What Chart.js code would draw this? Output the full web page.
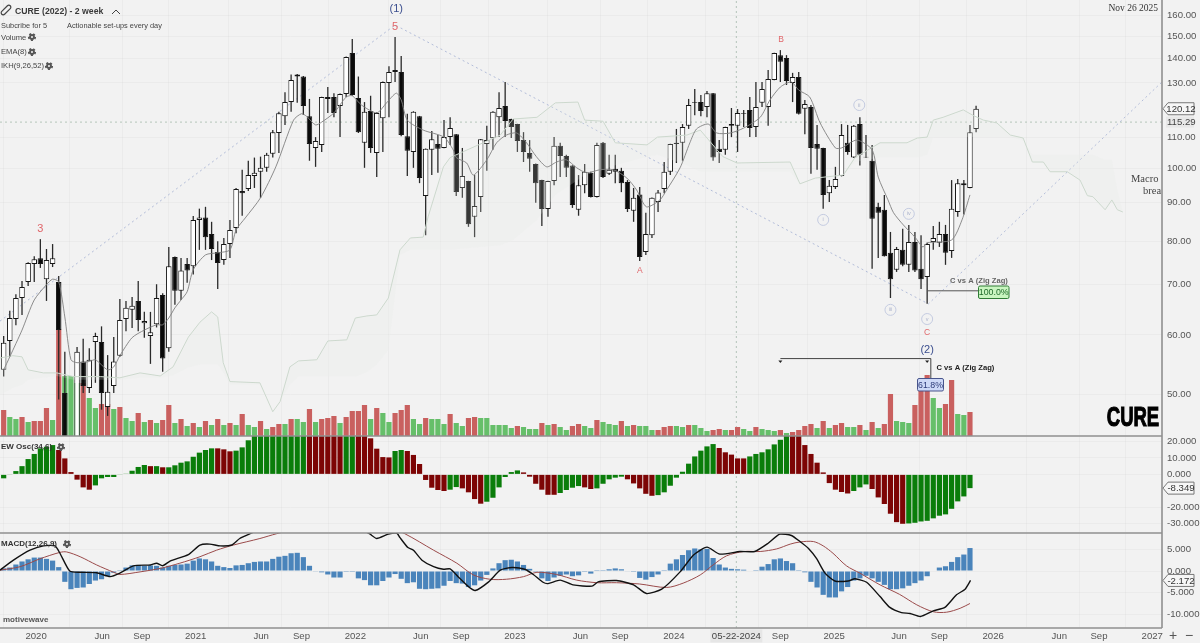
<!DOCTYPE html>
<html><head><meta charset="utf-8">
<style>html,body{margin:0;padding:0;background:#f2f2f2;overflow:hidden}canvas{display:block}</style>
<script src="https://cdn.jsdelivr.net/npm/chart.js@4/dist/chart.umd.min.js"></script>
</head><body>
<canvas id="c" width="1200" height="643"></canvas>
<script>
const opens=[53.9,58.9,63.0,67.2,70.6,74.6,75.9,71.2,74.6,70.6,50.2,41,38,55.3,51.0,58.7,58.7,48.1,51.3,56.3,63.0,64.8,66.6,62.2,59.8,62.0,67.8,57.6,76.2,68.7,74.6,74.1,85.4,86.0,81.8,77.4,75.5,79.3,83.3,93.3,93.9,97.7,99.0,100.2,104.6,111.5,117.4,122.6,133.4,132.6,117.4,106.5,107.5,124.5,124.5,121.1,125.7,142.5,124.1,108.2,119.3,104.9,116.7,130.0,134.5,134.5,110.4,105.2,117.4,91.9,105.9,107.8,106.5,110.1,111.1,94.2,96.2,86.2,91.6,107.8,109.7,117.0,121.1,116.4,114.6,109.1,104.9,101.4,96.5,88.3,96.2,107.2,103.9,100.9,88.1,95.0,98.7,91.6,108.2,98.4,99.9,99.3,95.9,87.8,92.3,77.4,81.5,90.2,93.9,99.0,108.2,108.2,114.0,122.6,122.6,120.8,126.0,106.2,105.9,114.0,114.0,118.6,119.7,113.6,122.3,120.8,131.2,141.6,140.4,130.0,132.4,120.1,120.8,107.8,106.5,92.7,94.5,97.7,108.2,103.4,114.6,103.7,102.4,88.9,88.1,77.2,73.3,77.9,74.4,79.8,73.5,71.7,79.8,79.6,81.8,77.6,87.5,95.6,94.2,112.9];
const closes=[58.6,63.2,67.2,69.5,74.8,75.7,74.6,75.5,75.9,60.9,40,37.5,57.0,51.3,55.6,59.8,50.2,50.4,55.3,62.8,65.2,65.6,62.8,62.6,60.5,67.2,55.8,74.1,68.7,73.1,73.1,85.4,86.0,81.0,78.1,74.8,79.3,82.8,93.9,92.7,98.0,98.7,100.2,104.3,111.8,118.5,122.6,131.2,132.6,121.1,107.8,108.8,124.5,123.8,118.6,125.7,140.8,125.3,111.8,119.0,106.5,118.6,130.4,134.5,135.3,110.8,105.6,119.0,97.1,106.2,109.4,106.2,110.1,113.2,93.0,97.7,84.3,89.1,109.4,109.1,119.0,120.4,115.7,113.6,108.8,105.2,103.0,95.6,88.3,96.2,107.2,103.9,100.2,89.4,95.0,99.0,91.6,107.5,97.4,99.6,99.0,95.6,88.3,91.4,76.2,81.8,91.4,92.9,99.0,107.8,107.8,113.6,121.5,122.3,119.3,126.0,103.4,105.2,113.6,114.6,118.6,118.3,113.2,120.8,127.6,131.6,142.5,138.7,130.8,132.4,118.3,121.9,106.5,106.2,92.2,94.8,96.8,110.8,105.2,114.0,104.3,103.4,85.7,87.3,76.4,71.2,78.1,74.4,79.8,73.1,71.2,79.3,80.8,81.8,77.2,88.4,95.6,95.0,111.8,120.12];
const highs=[59.8,64.6,68.0,70.8,75.0,76.4,80.5,78.1,79.3,71.9,57,43.5,57.8,59.3,57.6,60.4,61.6,56.4,59.6,67.0,66.6,67.4,70.8,64.4,64.4,70.1,68.2,78.6,76.3,76.0,76.0,86.4,88.4,88.9,84.9,80.0,80.8,85.4,94.2,99.6,102.4,103.4,103.7,104.9,112.5,119.0,126.4,133.4,133.6,132.8,123.8,110.1,124.6,128.4,126.0,125.9,141.0,148.8,132.6,122.6,125.0,118.8,130.6,136.9,149.7,141.2,118.3,119.2,117.5,106.3,112.2,110.8,116.0,117.0,111.2,106.5,96.3,98.0,109.5,114.0,119.2,126.4,130.4,116.5,114.7,111.8,109.1,101.5,96.6,96.3,110.1,108.2,104.3,101.0,98.0,101.4,99.0,108.2,108.5,104.3,104.3,100.2,96.5,94.2,94.5,87.3,91.5,93.6,102.0,107.9,112.9,114.6,123.8,127.6,125.3,126.8,126.1,109.1,113.7,120.4,120.0,119.7,124.5,130.4,130.4,135.3,142.6,143.8,141.6,134.1,134.5,123.4,121.5,114.3,106.6,96.5,100.5,114.6,114.3,114.3,117.0,110.8,107.5,90.0,92.2,82.3,78.6,83.1,84.1,82.3,81.5,79.6,83.8,84.9,84.1,96.5,96.8,96.5,114.3,121.2];
const lows=[52.8,56.1,61.8,63.8,69.7,70.6,73.7,66.6,73.9,49.2,38,33,36,50.2,50.2,51.8,47.7,46.8,50.2,56.1,60.7,61.3,60.7,59.5,54.9,61.4,53.6,57.0,65.8,66.8,70.4,72.2,77.9,77.9,75.5,69.1,74.4,76.0,82.0,86.5,93.3,94.2,91.4,99.0,103.4,104.9,114.3,119.0,122.3,117.8,102.4,100.5,105.2,118.6,117.0,110.1,124.5,125.0,111.5,100.2,104.9,97.4,105.2,117.0,130.4,110.4,97.7,100.2,95.6,81.5,98.0,98.7,106.4,107.5,91.9,91.4,83.6,81.0,87.5,99.3,105.9,110.1,110.1,109.8,105.2,102.0,99.0,90.0,83.8,86.2,95.0,97.4,97.4,88.6,86.5,92.7,91.5,91.5,97.1,98.0,95.6,93.0,87.5,84.9,75.3,76.7,80.8,87.5,92.7,98.0,101.7,102.4,112.9,117.7,117.4,117.0,102.4,101.7,104.3,110.1,105.2,113.6,110.1,110.1,120.8,114.0,131.1,130.4,129.2,122.6,118.0,111.1,98.4,99.6,88.4,90.2,93.9,97.6,104.3,103.3,100.9,103.3,73.5,76.0,76.3,67.2,72.8,74.1,72.8,72.8,69.1,66.0,77.9,78.6,74.4,76.0,86.2,86.8,94.1,111.8];

const volumes=[26,19,17,19,14,15,15,28,16,107,60,60,53,53,38,28,32,32,27,29,18,15,23,14,16,13,16,31,13,17,10,13,9,15,11,17,11,13,11,22,11,9,15,7,9,12,12,17,17,14,27,14,17,18,20,13,19,25,25,31,17,28,23,14,23,26,31,17,12,18,17,17,12,22,13,10,18,19,18,18,11,11,11,8,10,9,7,7,13,11,12,9,6,10,12,10,8,16,14,12,11,15,10,11,10,10,6,6,9,10,10,9,11,11,8,5,6,7,6,6,9,7,5,9,7,6,5,6,3,4,6,10,12,8,15,8,11,13,9,9,11,6,14,8,12,42,15,14,13,31,47,61,38,28,32,56,22,21,24];
const volSides="RGGRGRRRGRGGGRGGRRGRGGRGRGRRGRGRGRGRGRGRGGRGRRGRGGRGRRRGRRRRGRGGRRRGGRGGGRGGRRGGGGGGRGGGRGRGGRRGGRGGGRGRGGGRRRGGRGGGRRGRRGGRGGGRGRRRRGRGRRGGRGRGRRGGGRRRGGRRGGR";

const ewOsc=[-2.4,-0.4,2,5,9.3,12.4,15.8,16.8,17.8,14.8,9.7,1.4,-3.2,-7.9,-9.3,-6.7,-2.4,-1.6,-1.6,-0.4,0.4,2.2,4.5,5.7,5,5,4.3,4.3,5.5,7.1,7.9,10.7,13.2,14.8,15.8,15.8,15.2,14,14.4,16.4,20.7,25,30,30,30,30,30,30,30,30,30,30,30,30,30,30,30,30,30,30,21.9,15.6,10.5,10.3,14.2,14.8,14.2,11.8,6.3,-3.4,-8.1,-9.5,-10.1,-9.3,-7.7,-8.5,-10.9,-15,-17.8,-16.6,-14.2,-7.9,-1.6,1.4,2.4,1.2,-1.4,-5.7,-9.3,-12.4,-12.4,-11.3,-9.5,-8.1,-7.1,-7.9,-8.9,-8.5,-5.7,-3,-2,-1.4,-3,-5.5,-8.5,-11.8,-13,-12.6,-10.9,-6.9,-2,1.6,6.5,10.9,14.4,17,18.4,16,13.4,12,9.7,9.7,10.9,12.4,13.4,15.2,18.2,21,30,30,30,17.8,12.4,7.1,1.2,-5.3,-9.3,-10.7,-11.6,-10.1,-7.9,-6.1,-8.9,-14,-18,-23.9,-29,-30,-29.8,-29.4,-28.6,-28.2,-26.7,-25.1,-24.3,-20.9,-16.4,-13.4,-8.349];
const ewRuns=[9,6,9,1,1,1,8,3,12,6,2,6,2,7,2,4,6,6,4,2,5,5,10,5,7,10,3,6,11];

const macdHist=[0.6,0.8,1.5,2.2,2.7,3.1,3.1,2.8,2.4,0.9,-2.5,-4.2,-3.9,-3.8,-3,-2.2,-1.9,-1.2,-0.4,0.2,0.8,1.3,1.4,1.2,1.3,1.2,0.8,1.2,1.4,1.5,1.7,2.4,2.9,2.7,2.2,1.2,0.9,0.7,1.3,1.4,1.8,2.1,2.2,2.2,2.8,3.3,3.5,4.1,4.2,3.2,1.2,-0.15,-0.3,-0.8,-1.5,-1.5,-0.2,-0.2,-1.7,-2.1,-3.3,-3.3,-2.3,-1.5,-0.7,-1.8,-2.8,-2.6,-4.1,-4.2,-4.1,-4,-3.4,-2.3,-2.8,-2.9,-3.7,-3.3,-2.2,-0.9,0.6,1.8,2.5,2.6,2.2,1.4,0.5,-0.2,-1.7,-2.3,-1.5,-1.1,-0.8,-1.2,-1,-0.2,-0.6,0.2,0.2,0.4,0.6,0.4,-0.1,-0.2,-1.6,-2,-1.4,-0.8,0.2,1.7,2.7,3.7,4.8,5.2,5,5.1,3,1.5,0.8,0.5,0.4,0.3,0,0.2,1,1.6,2.7,2.9,2.3,1.8,0.2,-0.3,-2.5,-3.8,-5.5,-6.1,-6.1,-4.7,-3.7,-2.2,-1.7,-1.1,-1.7,-2.5,-3.2,-4.2,-4.2,-4,-3.4,-2.8,-2.2,-1.2,0,0.8,1.1,2.1,3.2,3.8,5.3];
const macdX=[-0.6,1.6,4.3,6.5,8.4,9.2,10.8,12.5,15.2,17.4,19,21.2,24,25,26,27.2,30.2,32.1,33.7,35.4,37.3,38.6,40.3,44,50,55,59.8,61,62.9,64.3,64.8,66.1,67,68.4,70.3,71.9,73,74.3,76,77.1,79.3,81.2,83.1,85.2,86.6,88.2,89,91,93.1,96.2,97.2,100.2,103,105.1,107.6,110.6,112.8,115,117.1,120.4,122.8,125,126.9,128.8,130.2,131.6,132.9,134.3,135.9,138.1,139.2,141.1,143.3,144.9,146.8,148.2,149.9,152,153.9,155.8,157.2,158.1];
const macdLine=[0.2,2.5,4.8,5.8,5.8,4.1,0,-0.3,-0.4,-1.3,-0.5,1.2,1.4,1.8,1.2,2.3,3.8,6,6.2,5.8,6,7.5,8.6,11,13,12,8.6,7.5,8.5,8.7,7.7,5.4,4.8,2.5,1,0.4,0.5,-1.3,-3.6,-4.5,-2.5,0.2,0.8,0.4,-0.8,-2.6,-2.9,-2.1,-3.2,-3.5,-2.5,-2.2,-3.2,-5.2,-4.2,-0.2,3.7,5.5,3.9,4.5,4.5,6.4,8.5,8.2,6.8,5.2,2.9,-0.5,-2.3,-2.3,-1.8,-2.6,-5.9,-8.4,-9.6,-9.8,-10.5,-9.2,-8.4,-5.5,-4.2,-2.172];
const signalX=[-0.6,2.7,5.9,9.2,10.3,12.5,15.2,18,19,22.3,25.6,28.8,32.1,34.8,37.6,41.9,44.6,50,55,60,63,65.6,70.3,74.1,76.8,79.5,82.2,85,87.2,90.4,93.7,97,100.2,104,108.4,111.1,113.9,116,118.2,121,123.7,126.4,128.6,130.2,132.4,134,135.6,137.8,140,143.3,146.5,149.3,152,154.2,156.4,158];
const signalLine=[0.2,1,2.8,4.3,4.4,3.3,1.4,-0.3,-0.8,-0.2,0.6,1.8,3.3,4.8,6,7.5,8.6,10.5,11,10.5,10,8.6,4.8,1.8,-0.9,-1.9,-1.9,-1.3,-0.3,-0.8,-2.1,-2.7,-2.7,-3,-3.8,-2.8,-0.9,1.4,3.5,4.5,4.5,5.1,6.2,6.7,6.8,5.8,4.1,1.2,-0.5,-3.2,-5.4,-7.8,-9.4,-9.5,-8.6,-7.5];

const emaX=[0,1,3,5,7,8,9,10,11,12,14,15,17,18,19,21,23,25,26,27,28,29,30,31,33,35,37,38,39.5,42,44.5,47.4,48.7,49.5,51,52,54,56,57,58.5,61,62.6,64.2,65,66,68.6,72,73.5,74,75.7,76.8,79,80.6,82.2,83.9,85.5,87.1,88.8,90.4,92,93.7,95.3,97.5,99.7,101.9,103.5,105.1,107.3,108.4,110.6,112.2,113.3,115.2,116.6,118.8,121,123.7,125.3,127,128.8,130,131.8,133.5,136,137,139.5,142,143,144.6,145.5,147.1,149,150.3,151,155,156.7,158];
const emaVal=[53.9,56.1,60.9,66.8,70.0,71.2,70.6,63.4,55.6,55.1,55.3,55.6,53.9,54.4,56.3,59.5,60.9,61.9,61.9,63.2,65.2,66.8,68.5,73.3,76.7,77.2,77.9,82.8,85.9,91.4,100.5,116.0,118.3,117.4,114.3,115.3,118.6,124.5,125.0,121.5,118.6,122.3,126.0,123.4,116.0,112.5,110.1,105.9,103.4,101.7,98.0,102.7,108.2,110.8,111.5,108.2,103.7,100.5,102.0,102.7,100.2,98.7,99.6,99.6,97.1,93.6,88.9,90.8,93.6,100.2,108.2,112.9,114.6,111.5,111.5,113.2,117.0,123.4,128.4,130.4,127.2,124.5,115.0,106.5,106.5,109.1,105.9,97.4,90.8,87.3,84.1,81.0,78.6,79.6,80.3,85.4,92.2];

const cloudX=[-0.6,1.5,3,4,6.5,8.7,11.4,15.8,19,22.3,25.6,27.7,30.2,32.1,34,35,35.9,37,41.9,44,45.2,46.8,48.2,51.2,53,56.1,57.5,59.4,61,62.9,64.8,66.5,68.6,69.4,71.9,73,81.2,83.3,87.2,90.2,93.9,95,98,100,105.2,106.9,111.7,113.9,117.6,119.9,128.6,130.2,132.7,137.3,139.2,143.3,147.7,149.4,151,152,153.6,156.9,158.5,160.2,162.4,164.6,166.7,168.2,170,171.1,173.9,176,177.2,178.1,180.1,181.2,182.1,183];
const cloudA=[55.9,56.3,56.1,53.9,53.4,53.4,52.8,52.8,52.6,53.4,52.9,54.4,59.6,62.4,64.4,63.4,55.1,52.0,51.8,47.4,48.9,54.4,55.4,55.6,58.9,59.1,63.2,63.6,63.8,67.2,77.9,80.8,81.0,86.2,100.5,103.4,110.8,116.4,117,122.3,122.6,116,115.6,108.2,107.5,110.1,110.8,112.5,103.7,101.7,102,95.4,97.1,98,103.4,108.2,108.2,109.8,110.1,116,117,119.7,117.7,116,115,110.8,109.8,102,102,99,99,96.5,92,91.7,88.1,90.8,88.1,87.5];
const cloudB=[49.9,51,51.5,52.3,52.6,52.9,52.3,52.3,52.3,52.6,52.6,53,54.3,54.8,54.8,54.8,53.5,51.5,51.5,47.4,48.9,51.5,52.8,52.8,52.8,52.8,52.8,53.5,54.8,57.3,76.7,77.9,77.9,77.9,77.9,77.9,79,80.3,85.4,92.2,96.5,98,99.6,101,103.7,104.3,101,99,99,99,99,95.4,97.1,98,102,103.4,103.4,103.4,104.3,110.1,110.1,110.1,110.1,110.1,110.1,110.1,109,104.3,104.3,104.3,104.3,104.3,104.3,104.3,102.7,102.7,93.6,87.5];

const waveX=[-0.6,64,151.2,189.4];
const waveP=[62.6,155.3,66,130.4];
const priceTicks=[160,150,140,130,110,100,90,80,70,60,50];
const ewTicks=[20,10,0,-20,-30];
const macdTicks=[5,0,-5,-10];
const timePos=[5.3,16.1,22.6,31.4,42.1,48.7,57.5,68.2,74.8,83.6,94.3,100.8,109.6,119.8,127,135.8,146.4,153,161.8,172.6,179.1,187.8];
const timeLabels=["2020","Jun","Sep","2021","Jun","Sep","2022","Jun","Sep","2023","Jun","Sep","2024","05-22-2024","Sep","2025","Jun","Sep","2026","Jun","Sep","2027"];
const waveLabels=[["3",6,83,"#e0666a",11],["5",64,154.5,"#e0666a",11],["(1)",64.2,163.3,"#3c4f8f",11],["A",104,73,"#e0666a",8.5],["B",127.1,148.3,"#e0666a",8.5],["C",151,60.4,"#e0666a",8.5],["(2)",151,57.3,"#3c4f8f",11]];
const circled=[["ii",139.9,121.5],["i",134,85.4],["iv",148,87],["iii",145,64.8],["v",151,63]];

const XMIN=-0.6,XMAX=189.4;
const idx=a=>a.map((_,i)=>i);
const zip=(xs,ys)=>xs.map((x,i)=>({x,y:ys[i]}));
const ewColors=[];ewRuns.forEach((n,k)=>{for(let j=0;j<n;j++)ewColors.push(k%2?"#7d0505":"#0a7d0a")});
const F='"Liberation Sans", sans-serif';
const tickFont={family:'"Liberation Sans"',size:9.6};

function barDs(yAxisID,data,color,thick,order,extra){
  return Object.assign({type:'bar',yAxisID,xAxisID:'x',data,backgroundColor:color,barThickness:thick,grouped:false,order,borderWidth:0,borderSkipped:false,inflateAmount:0},extra||{});
}
function lineDs(yAxisID,data,color,width,order,extra){
  return Object.assign({type:'line',yAxisID,xAxisID:'x',data,borderColor:color,borderWidth:width,pointRadius:0,fill:false,order,tension:0},extra||{});
}
const bodyColors=closes.map((c,i)=>c>=opens[i]?"#ffffff":"#0a0a0a");

const datasets=[
  lineDs('yFull',[{x:119.8,y:-192},{x:119.8,y:436}],'rgba(140,165,150,.6)',1,9,{borderDash:[2,3]}),
  lineDs('yMain',[{x:XMIN,y:115.29},{x:XMAX,y:115.29}],'rgba(140,170,150,.6)',1,9,{borderDash:[2,3]}),
  lineDs('yMain',zip(waveX,waveP),'rgba(175,185,215,.95)',1,8,{borderDash:[2,3]}),
  barDs('yFull',idx(volumes).map(i=>({x:i,y:volumes[i]})),volumes.map((_,i)=>volSides[i]==='R'?"#c9605f":"#66bf6a"),5.2,7),
  barDs('yMain',idx(highs).map(i=>({x:i,y:[lows[i],highs[i]]})),"#2a2a2a",1.3,4),
  barDs('yMain',idx(opens).map(i=>({x:i,y:[Math.min(opens[i],closes[i]),Math.max(opens[i],closes[i])]})),bodyColors,5.5,3,{borderWidth:1,borderColor:"#161616"}),
  lineDs('yMain',zip(cloudX,cloudA),'#ccd8cd',1,2,{fill:'+1',backgroundColor:'rgba(228,236,228,.2)'}),
  lineDs('yMain',zip(cloudX,cloudB),'rgba(0,0,0,0)',0,2),
  lineDs('yMain',zip(emaX,emaVal),'#808080',0.9,1,{tension:.25}),
  barDs('yEw',idx(ewOsc).map(i=>({x:i,y:ewOsc[i]})),ewColors,5.2,5),
  barDs('yMacd',idx(macdHist).map(i=>({x:i,y:macdHist[i]})),"#4a84bb",5.2,5),
  lineDs('yMacd',zip(signalX,signalLine),'#9a4a4a',1,2,{tension:.3}),
  lineDs('yMacd',zip(macdX,macdLine),'#111111',1.4,1,{tension:.2})
];

function txt(ctx,s,x,y,font,color,align){ctx.font=font;ctx.fillStyle=color;ctx.textAlign=align||'left';ctx.textBaseline='middle';ctx.fillText(s,x,y)}
function gear(ctx,x,y,r){ctx.save();ctx.strokeStyle='#555';ctx.lineWidth=r*.55;ctx.setLineDash([r*.62,r*.62]);ctx.beginPath();ctx.arc(x,y,r,0,Math.PI*2);ctx.stroke();ctx.setLineDash([]);ctx.lineWidth=r*.6;ctx.beginPath();ctx.arc(x,y,r*.62,0,Math.PI*2);ctx.stroke();ctx.restore()}
function tag(ctx,s,y,color){
  const x0=1163,x1=1168,x2=1194;
  ctx.beginPath();ctx.moveTo(x0,y);ctx.lineTo(x1,y-6);ctx.lineTo(x2,y-6);ctx.lineTo(x2,y+6);ctx.lineTo(x1,y+6);ctx.closePath();
  ctx.fillStyle='#f6f6f6';ctx.fill();ctx.strokeStyle='#777';ctx.lineWidth=1;ctx.stroke();
  txt(ctx,s,(x1+x2)/2,y+.5,'9.6px "Liberation Sans"',color||'#333','center');
}
function box(ctx,s,x,y,w,h,bg,bd,fg){
  ctx.fillStyle=bg;ctx.strokeStyle=bd;ctx.lineWidth=1;ctx.beginPath();ctx.roundRect(x,y,w,h,1.5);ctx.fill();ctx.stroke();
  txt(ctx,s,x+w/2,y+h/2+.5,'8.8px "Liberation Sans"',fg,'center');
}
const overlay={id:'overlay',afterDraw(chart){
  const ctx=chart.ctx,X=chart.scales.x,M=chart.scales.yMain,E=chart.scales.yEw,D=chart.scales.yMacd;
  ctx.save();
  ctx.strokeStyle='#8f8f8f';ctx.lineWidth=1.4;
  [M.bottom,E.bottom,D.bottom].forEach(y=>{ctx.beginPath();ctx.moveTo(0,y);ctx.lineTo(1162,y);ctx.stroke()});
  ctx.lineWidth=1.6;ctx.beginPath();ctx.moveTo(1162,0);ctx.lineTo(1162,628);ctx.stroke();
  ctx.strokeStyle='#444';ctx.lineWidth=1.2;
  ctx.save();ctx.translate(6,10);ctx.rotate(-Math.PI/4);ctx.beginPath();ctx.roundRect(-6,-2,12,4,2);ctx.stroke();ctx.restore();
  txt(ctx,'CURE (2022) - 2 week',15,12,'bold 8.7px '+F,'#3a3a3a');
  ctx.strokeStyle='#444';ctx.lineWidth=1;ctx.beginPath();ctx.moveTo(112,14);ctx.lineTo(116,10);ctx.lineTo(120,14);ctx.stroke();
  txt(ctx,'Subcribe for 5',1,25.5,'7.4px '+F,'#444');
  txt(ctx,'Actionable set-ups every day',67,25.5,'7.4px '+F,'#444');
  txt(ctx,'Volume',1,37.5,'7.6px '+F,'#444');gear(ctx,32,37,3.2);
  txt(ctx,'EMA(8)',1,52,'7.6px '+F,'#444');gear(ctx,32,52,3.2);
  txt(ctx,'IKH(9,26,52)',1,66,'7.6px '+F,'#444');gear(ctx,49,66,3.2);
  txt(ctx,'EW Osc(34,6)',1,447,'bold 8px '+F,'#333');gear(ctx,61,447,3.2);
  txt(ctx,'MACD(12,26,9)',1,544,'bold 8px '+F,'#333');gear(ctx,67,544,3.2);
  txt(ctx,'motivewave',3,620,'bold 8px '+F,'#555');
  txt(ctx,'Nov 26 2025',1158,8,'9.5px "Liberation Serif"','#333','right');
  ctx.save();ctx.beginPath();ctx.rect(0,0,1161,643);ctx.clip();
  txt(ctx,'Macro c',1131,179,'10.5px "Liberation Serif"','#444');
  txt(ctx,'breal',1143,191,'10.5px "Liberation Serif"','#444');
  ctx.restore();
  ctx.save();ctx.translate(1133,418);ctx.scale(.66,1);ctx.lineWidth=1.2;ctx.strokeStyle='#000';
  txt(ctx,'CURE',0,0,'bold 28px "Liberation Sans"','#000','center');ctx.strokeText('CURE',0,0);ctx.restore();
  waveLabels.forEach(([s,i,p,c,size])=>txt(ctx,s,X.getPixelForValue(i),M.getPixelForValue(p),size+'px '+F,c,'center'));
  circled.forEach(([s,i,p])=>{const x=X.getPixelForValue(i),y=M.getPixelForValue(p);
    ctx.strokeStyle='#c4cbe0';ctx.lineWidth=1;ctx.beginPath();ctx.arc(x,y,5.5,0,Math.PI*2);ctx.stroke();
    txt(ctx,s,x,y,'5.5px '+F,'#aab2cc','center')});
  const fx=X.getPixelForValue(151),fy=M.getPixelForValue(68.7);
  ctx.strokeStyle='#555';ctx.lineWidth=1;ctx.beginPath();ctx.moveTo(fx,fy);ctx.lineTo(979,fy);ctx.stroke();
  txt(ctx,'C vs A (Zig Zag)',950,280.5,'bold 7.6px '+F,'#666');
  box(ctx,'100.0%',978.5,286,30.5,12.5,'#c9f5c0','#2f7d35','#1f6a2a');
  const gy=M.getPixelForValue(55.8),g0=X.getPixelForValue(127),g1=X.getPixelForValue(151.6);
  ctx.strokeStyle='#444';ctx.beginPath();ctx.moveTo(g0,gy);ctx.lineTo(g1,gy);ctx.lineTo(g1,378);ctx.stroke();
  [g0,X.getPixelForValue(151)].forEach(x=>{ctx.fillStyle='#222';ctx.beginPath();ctx.moveTo(x-2,360.5);ctx.lineTo(x+2,360.5);ctx.lineTo(x,363);ctx.closePath();ctx.fill()});
  txt(ctx,'C vs A (Zig Zag)',936.5,367.5,'bold 7.6px '+F,'#222');
  box(ctx,'61.8%',917.5,378.5,26,12.5,'#cdd8f7','#48558c','#2c3a78');
  ctx.fillStyle='#e8e8e8';ctx.fillRect(1166,M.getPixelForValue(115.29)-5.5,28,11);
  txt(ctx,'115.29',1167,M.getPixelForValue(115.29)+.5,'9.6px "Liberation Sans"','#444');
  tag(ctx,'120.12',M.getPixelForValue(120.12));
  tag(ctx,'-8.349',E.getPixelForValue(-8.349));
  tag(ctx,'-2.172',D.getPixelForValue(-2.172));
  const dx=X.getPixelForValue(119.8);
  ctx.fillStyle='#e6e6e6';ctx.fillRect(dx-26,629.5,52,13);
  txt(ctx,'05-22-2024',dx,636,'9.6px "Liberation Sans"','#444','center');
  txt(ctx,'+',1173,636,'14px "Liberation Sans"','#555','center');
  txt(ctx,'−',1189,636,'14px "Liberation Sans"','#555','center');
  ctx.restore();
}};
const grid={color:'rgba(0,0,0,.028)',lineWidth:1,tickLength:0,drawTicks:false};
function yAxis(stackW,type,min,max,ticks,dec){
  return {type,position:'right',stack:'panes',stackWeight:stackW,min,max,
    afterFit(s){s.width=38;s.paddingTop=0;s.paddingBottom=0},
    afterBuildTicks(s){s.ticks=ticks.map(v=>({value:v}))},
    border:{display:false},grid,
    ticks:{autoSkip:false,font:tickFont,color:'#555',padding:5,callback:v=>Number(v).toFixed(dec)}};
}
new Chart(document.getElementById('c'),{
  data:{datasets},
  plugins:[overlay],
  options:{responsive:false,animation:false,devicePixelRatio:1,
    layout:{padding:0},
    plugins:{legend:{display:false},tooltip:{enabled:false}},
    events:[],
    scales:{
      x:{type:'linear',position:'bottom',offset:false,min:XMIN,max:XMAX,
        afterFit(s){s.height=15;s.paddingLeft=0;s.paddingRight=0},
        afterBuildTicks(s){s.ticks=timePos.map(v=>({value:v}))},
        border:{display:false},grid,
        ticks:{autoSkip:false,maxRotation:0,font:tickFont,color:'#555',padding:3,
          callback:v=>{const k=timePos.indexOf(v);return k<0?'':timeLabels[k]}}},
      yMain:Object.assign(yAxis(436,'logarithmic',44,167.7,priceTicks,2),{weight:1}),
      yEw:Object.assign(yAxis(97,'linear',-35.6,23.3,ewTicks,3),{weight:2}),
      yMacd:Object.assign(yAxis(95,'linear',-13.15,8.77,macdTicks,3),{weight:3}),
      yFull:{type:'linear',display:false,min:-192,max:436}
    }
  }
});
</script>
</body></html>
